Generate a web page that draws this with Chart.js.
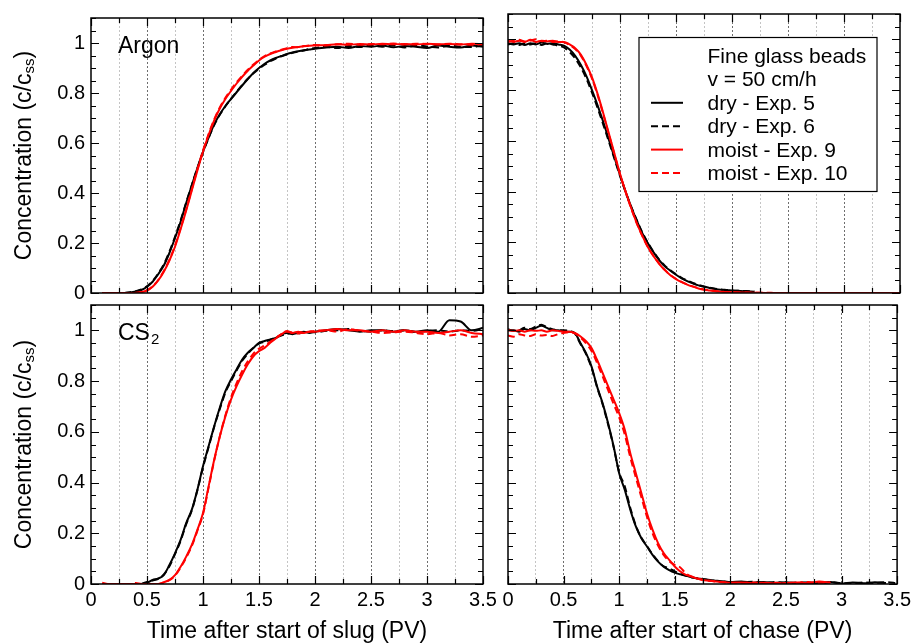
<!DOCTYPE html>
<html><head><meta charset="utf-8">
<script src="https://cdn.jsdelivr.net/npm/chart.js@4/dist/chart.umd.min.js"></script>
<style>
html,body{margin:0;padding:0;background:#fff;}
#wrap{position:relative;width:915px;height:643px;background:#fff;}
#wrap canvas{position:absolute;left:0;top:0;}
</style></head><body>
<div id="wrap">
<canvas id="cTL" width="915" height="643"></canvas>
<canvas id="cTR" width="915" height="643"></canvas>
<canvas id="cBL" width="915" height="643"></canvas>
<canvas id="cBR" width="915" height="643"></canvas>
</div>
<script>
// ---------------- data ----------------
const pv = [0,0.05,0.1,0.15,0.2,0.25,0.3,0.35,0.4,0.45,
  0.5,0.55,0.6,0.65,0.7,0.75,0.8,0.85,0.9,0.95,
  1.0,1.05,1.1,1.15,1.2,1.25,1.3,1.35,1.4,1.45,
  1.5,1.55,1.6,1.65,1.7,1.75,1.8,1.85,1.9,1.95,
  2.0,2.1,2.2,2.3,2.4,2.5,2.6,2.7,2.8,2.9,
  3.0,3.1,3.2,3.3,3.4,3.5];

const seriesLabels = ['dry - Exp. 5','dry - Exp. 6','moist - Exp. 9','moist - Exp. 10'];
const legendHeader = ['Fine glass beads','v = 50 cm/h'];
const xTickLabels = ['0','0.5','1','1.5','2','2.5','3','3.5'];
const yTickLabels = ['0','0.2','0.4','0.6','0.8','1'];
const xTitles = ['Time after start of slug (PV)','Time after start of chase (PV)'];
const yTitleParts = ['Concentration (c/c','ss',')'];
const gasLabels = [['Argon',''],['CS','2']];

// Argon, slug
const argonSlugDry5 = [null,null,0,0,0,0,0,0.002,0.006,0.012,
  0.025,0.045,0.075,0.11,0.16,0.22,0.285,0.36,0.43,0.5,
  0.565,0.622,0.675,0.715,0.748,0.776,0.803,0.83,0.856,0.88,
  0.9,0.917,0.93,0.94,0.948,0.956,0.962,0.967,0.971,0.974,
  0.977,0.982,0.985,0.98,0.988,0.985,0.99,0.983,0.988,0.985,
  0.98,0.99,0.985,0.982,0.99,0.985];
const argonSlugDry6 = [null,null,0,0,0,0,0,0.003,0.007,0.014,
  0.027,0.048,0.078,0.115,0.165,0.225,0.29,0.362,0.432,0.5,
  0.563,0.62,0.672,0.713,0.747,0.777,0.805,0.832,0.857,0.879,
  0.897,0.913,0.927,0.938,0.947,0.954,0.961,0.966,0.97,0.976,
  0.98,0.984,0.98,0.988,0.984,0.99,0.985,0.99,0.982,0.99,
  0.986,0.982,0.99,0.985,0.984,0.99];
const argonSlugMoist9 = [null,null,0,0,0,0,0,0,0,0.003,
  0.01,0.025,0.05,0.085,0.13,0.185,0.255,0.33,0.41,0.49,
  0.565,0.632,0.69,0.738,0.776,0.808,0.838,0.865,0.889,0.91,
  0.93,0.945,0.956,0.964,0.971,0.977,0.981,0.984,0.987,0.989,
  0.99,0.992,0.995,0.993,0.996,0.994,0.997,0.995,0.996,0.994,
  0.997,0.995,0.996,0.994,0.997,0.995];
const argonSlugMoist10 = [null,null,0,0,0,0,0,0,0.001,0.004,
  0.011,0.027,0.052,0.088,0.133,0.19,0.26,0.335,0.415,0.495,
  0.57,0.636,0.694,0.742,0.781,0.813,0.843,0.869,0.893,0.914,
  0.933,0.948,0.958,0.966,0.973,0.979,0.984,0.983,0.988,0.99,
  0.992,0.99,0.995,0.997,0.993,0.996,0.995,0.998,0.994,0.997,
  0.996,0.994,0.997,0.995,0.993,0.996];

// Argon, chase
const argonChaseDry5 = [0.985,0.98,0.985,0.978,0.985,0.98,0.988,0.982,0.985,0.98,
  0.975,0.96,0.935,0.9,0.855,0.8,0.74,0.675,0.605,0.535,
  0.465,0.4,0.34,0.285,0.235,0.195,0.16,0.13,0.105,0.088,
  0.072,0.058,0.047,0.038,0.03,0.025,0.02,0.016,0.013,0.011,
  0.01,0.007,0.005,null,null,null,null,null,null,null,
  null,null,null,null,null,null];
const argonChaseDry6 = [0.98,0.985,0.978,0.985,0.98,0.985,0.978,0.985,0.98,0.975,
  0.968,0.95,0.925,0.89,0.845,0.79,0.73,0.665,0.598,0.53,
  0.462,0.398,0.34,0.287,0.238,0.197,0.162,0.132,0.108,0.09,
  0.074,0.06,0.049,0.04,0.032,0.026,0.021,0.017,0.014,0.012,
  0.01,0.008,0.006,null,null,null,null,null,null,null,
  null,null,null,null,null,null];
const argonChaseMoist9 = [0.995,0.99,0.995,0.99,0.998,0.99,0.995,0.992,0.995,0.99,
  0.99,0.98,0.965,0.94,0.9,0.85,0.785,0.71,0.63,0.55,
  0.47,0.4,0.335,0.275,0.225,0.18,0.145,0.115,0.09,0.07,
  0.055,0.043,0.033,0.025,0.018,0.013,0.01,0.007,0.005,0.004,
  0.003,0.002,0.001,0,0,0,0,0,0,0,
  0,0,0,0,0,0];
const argonChaseMoist10 = [0.99,0.995,0.998,0.992,0.995,1.0,0.993,0.995,0.99,0.992,
  0.988,0.978,0.962,0.936,0.896,0.845,0.78,0.705,0.626,0.547,
  0.468,0.398,0.333,0.274,0.224,0.18,0.146,0.116,0.091,0.071,
  0.056,0.044,0.034,0.026,0.019,0.014,0.011,0.008,0.006,0.004,
  0.003,0.002,0.001,0.001,0,0,0,0,0,0,
  0,0,0,0,0,0];

// CS2, slug
const cs2SlugDry5 = [null,null,null,null,null,null,null,null,null,0,
  0.005,0.016,0.022,0.035,0.075,0.121,0.174,0.24,0.293,0.372,
  0.464,0.543,0.622,0.695,0.76,0.806,0.846,0.885,0.912,0.931,
  0.951,0.958,0.964,0.97,0.984,0.99,0.985,0.99,0.995,0.99,
  0.995,1.0,1.005,1.0,0.995,1.0,1.0,0.995,1.0,0.995,
  1.0,0.995,1.04,1.035,1.0,1.01];
const cs2SlugDry6 = [null,null,null,null,null,null,null,null,null,0,
  0.008,0.014,0.02,0.038,0.07,0.118,0.17,0.236,0.29,0.37,
  0.46,0.54,0.62,0.69,0.755,0.8,0.842,0.88,0.908,0.93,
  0.948,0.955,0.962,0.972,0.98,0.986,0.99,0.988,0.992,0.995,
  0.993,0.998,1.0,1.005,0.998,0.995,1.0,0.997,1.0,0.993,
  0.998,1.0,0.995,1.0,0.998,1.005];
const cs2SlugMoist9 = [null,null,0,0,0,0,0,0,0,0,
  0,0,0,0.007,0.016,0.035,0.068,0.108,0.154,0.214,
  0.28,0.385,0.49,0.582,0.661,0.727,0.78,0.826,0.866,0.898,
  0.918,0.931,0.951,0.968,0.984,0.997,0.99,0.995,0.99,0.995,
  0.995,1.0,1.005,1.0,1.0,0.995,1.0,0.995,1.0,0.995,
  0.995,0.99,0.995,1.0,0.99,0.985];
const cs2SlugMoist10 = [null,null,0.005,0,0,0,0,0,0.004,0,
  0,0,0,0.006,0.015,0.033,0.065,0.104,0.15,0.21,
  0.275,0.38,0.487,0.582,0.665,0.735,0.792,0.84,0.878,0.908,
  0.928,0.94,0.955,0.97,0.985,0.995,0.99,0.988,0.992,0.995,
  0.998,1.0,0.995,1.005,0.998,0.995,0.99,0.992,0.995,0.99,
  0.985,0.99,0.98,0.985,0.975,0.98];

// CS2, chase
const cs2ChaseDry5 = [1.0,1.0,0.995,1.005,1.0,1.01,1.018,1.01,1.0,1.0,
  0.997,0.995,0.99,0.951,0.912,0.859,0.78,0.714,0.635,0.543,
  0.437,0.372,0.293,0.227,0.18,0.148,0.115,0.088,0.068,0.055,
  0.045,0.038,0.032,0.027,0.022,0.02,0.017,0.014,0.012,0.01,
  0.008,0.01,0.005,0.008,0.004,0.007,0.003,0.006,0.004,0.008,
  0.002,0.006,0.003,0.007,0.004,null];
const cs2ChaseDry6 = [1.005,0.998,1.0,1.01,1.005,1.015,1.022,1.012,1.005,1.0,
  1.0,0.998,0.988,0.948,0.908,0.855,0.778,0.71,0.63,0.54,
  0.44,0.385,0.3,0.23,0.182,0.15,0.117,0.09,0.07,0.062,
  0.05,0.04,0.033,0.027,0.023,0.02,0.016,0.013,0.011,0.009,
  0.007,0.006,0.009,0.004,0.008,0.003,0.006,0.005,0.003,0.007,
  0.004,0.002,0.006,0.004,0.007,0.003];
const cs2ChaseMoist9 = [1.0,0.998,1.0,0.995,1.0,0.998,1.0,0.995,1.0,0.998,
  0.995,0.995,0.99,0.977,0.958,0.931,0.885,0.833,0.78,0.727,
  0.674,0.609,0.516,0.437,0.358,0.279,0.214,0.161,0.122,0.095,
  0.069,0.049,0.036,0.029,0.022,0.016,0.013,0.011,0.009,0.007,
  0.005,0.006,0.003,0.005,0.002,0.004,0.006,0.003,0.01,0.005,
  null,null,null,null,null,null];
const cs2ChaseMoist10 = [0.98,0.975,0.985,0.98,0.978,0.985,0.98,0.982,0.978,0.985,
  0.99,0.993,0.988,0.972,0.95,0.92,0.873,0.82,0.765,0.71,
  0.657,0.59,0.5,0.42,0.342,0.265,0.2,0.152,0.115,0.09,
  0.075,0.065,0.042,0.03,0.023,0.017,0.014,0.011,0.008,0.006,
  0.005,0.004,0.006,0.003,0.005,0.002,0.004,0.008,0.003,0.006,
  null,null,null,null,null,null];

// ---------------- styling ----------------
const FONT = "'Liberation Sans', Arial, Helvetica, sans-serif";
Chart.defaults.font.family = FONT;
Chart.defaults.color = '#000';
const seriesColors = ['#000000','#000000','#ff0000','#ff0000'];
const seriesDash = [[],[7,4],[],[7,4]];

function makeDatasets(arrs) {
  return arrs.map((arr, i) => ({
    label: seriesLabels[i],
    data: arr.map((v, k) => ({x: pv[k], y: v})),
    borderColor: seriesColors[i],
    backgroundColor: seriesColors[i],
    borderDash: seriesDash[i],
    borderWidth: 2,
    pointRadius: 0,
    fill: false,
    cubicInterpolationMode: 'monotone',
    spanGaps: false,
    order: i < 2 ? 2 + i : i - 2
  }));
}

const decorPlugin = {
  id: 'decor',
  afterDraw(chart, args, opts) {
    const {ctx, chartArea: a, scales: {x, y}} = chart;
    ctx.save();
    // inward ticks
    ctx.strokeStyle = '#000';
    ctx.lineWidth = 1.2;
    ctx.beginPath();
    for (let i = 0; i <= 22; i++) {
      const py = Math.round(y.getPixelForValue(i * 0.05)) + 0.5;
      const len = (i % 4 === 0) ? 8 : 5;
      ctx.moveTo(a.left, py); ctx.lineTo(a.left + len, py);
      ctx.moveTo(a.right, py); ctx.lineTo(a.right - len, py);
    }
    for (let i = 0; i <= 14; i++) {
      const px = Math.round(x.getPixelForValue(i * 0.25)) + 0.5;
      const len = (i % 2 === 0) ? 8 : 5;
      ctx.moveTo(px, a.bottom); ctx.lineTo(px, a.bottom - len);
      ctx.moveTo(px, a.top); ctx.lineTo(px, a.top + len);
    }
    ctx.stroke();
    // frame
    ctx.lineWidth = 1.5;
    ctx.strokeRect(a.left, a.top, a.right - a.left, a.bottom - a.top);

    // panel label
    if (opts.gas) {
      ctx.fillStyle = '#000';
      ctx.textAlign = 'left';
      ctx.textBaseline = 'alphabetic';
      ctx.font = '23px ' + FONT;
      const gx = a.left + 27, gy = a.top + 34.5;
      ctx.fillText(opts.gas[0], gx, gy);
      if (opts.gas[1]) {
        const w = ctx.measureText(opts.gas[0]).width;
        ctx.font = '15px ' + FONT;
        ctx.fillText(opts.gas[1], gx + w + 1, gy + 4);
      }
    }

    // y title with subscript
    if (opts.yTitle) {
      const bigF = '23px ' + FONT, smallF = '15px ' + FONT;
      ctx.font = bigF; const w0 = ctx.measureText(yTitleParts[0]).width;
      const w2 = ctx.measureText(yTitleParts[2]).width;
      ctx.font = smallF; const w1 = ctx.measureText(yTitleParts[1]).width;
      const total = w0 + w1 + w2;
      ctx.translate(31, (a.top + a.bottom) / 2);
      ctx.rotate(-Math.PI / 2);
      ctx.fillStyle = '#000';
      ctx.textAlign = 'left';
      ctx.textBaseline = 'alphabetic';
      let cx = -total / 2;
      ctx.font = bigF; ctx.fillText(yTitleParts[0], cx, 0); cx += w0;
      ctx.font = smallF; ctx.fillText(yTitleParts[1], cx, 3); cx += w1;
      ctx.font = bigF; ctx.fillText(yTitleParts[2], cx, 0);
      ctx.setTransform(1, 0, 0, 1, 0, 0);
    }

    // legend box
    if (opts.legend) {
      const bx = a.left + 131, by = a.top + 23.5, bw = 238, bh = 154;
      ctx.fillStyle = '#fff';
      ctx.fillRect(bx, by, bw, bh);
      ctx.strokeStyle = '#000';
      ctx.lineWidth = 1.2;
      ctx.strokeRect(bx, by, bw, bh);
      ctx.font = '21px ' + FONT;
      ctx.fillStyle = '#000';
      ctx.textAlign = 'left';
      ctx.textBaseline = 'alphabetic';
      const tx = a.left + 199.5;
      const lineH = 23.4;
      let base = a.top + 49;
      legendHeader.forEach(t => { ctx.fillText(t, tx, base); base += lineH; });
      chart.data.datasets.forEach(ds => {
        ctx.save();
        ctx.strokeStyle = ds.borderColor;
        ctx.lineWidth = 2;
        ctx.setLineDash(ds.borderDash || []);
        ctx.beginPath();
        ctx.moveTo(a.left + 143, base - 7);
        ctx.lineTo(a.left + 175, base - 7);
        ctx.stroke();
        ctx.restore();
        ctx.fillStyle = '#000';
        ctx.fillText(ds.label, tx, base);
        base += lineH;
      });
    }
    ctx.restore();
  }
};

function xTickValues() {
  const out = [];
  for (let i = 0; i <= 14; i++) out.push({value: i * 0.25});
  return out;
}

function makeChart(id, series, cfg) {
  return new Chart(document.getElementById(id), {
    type: 'line',
    data: { datasets: makeDatasets(series) },
    options: {
      responsive: false,
      animation: false,
      devicePixelRatio: 1,
      events: [],
      layout: { padding: cfg.pad },
      plugins: {
        legend: { display: false },
        tooltip: { enabled: false },
        decor: { gas: cfg.gas, yTitle: cfg.yTitle, legend: cfg.legend }
      },
      scales: {
        x: {
          type: 'linear', min: 0, max: 3.5,
          afterBuildTicks: s => { s.ticks = xTickValues(); },
          afterFit: s => { s.height = cfg.xTitle ? 59 : 0; },
          ticks: {
            display: !!cfg.xTitle,
            autoSkip: false, maxRotation: 0, minRotation: 0,
            padding: 4,
            font: { size: 20, lineHeight: 1.2 },
            color: '#000',
            callback: (v) => {
              const s = xTickLabels.find(l => Math.abs(parseFloat(l) - v) < 1e-9);
              return s === undefined ? '' : s;
            }
          },
          grid: {
            drawTicks: false,
            lineWidth: 1,
            color: (c) => {
              const v = c.tick ? c.tick.value : 0;
              if (v <= 0.001 || v >= 3.499) return 'rgba(0,0,0,0)';
              return (Math.round(v * 4) % 2 === 0) ? '#6e6e6e' : '#c4c4c4';
            }
          },
          border: { display: false, dash: [2, 2] },
          title: {
            display: !!cfg.xTitle,
            text: cfg.xTitle || '',
            font: { size: 23, lineHeight: 1 },
            padding: { top: 0, bottom: 0 },
            color: '#000'
          }
        },
        y: {
          type: 'linear', min: 0, max: 1.1,
          afterBuildTicks: s => { s.ticks = yTickLabels.map(l => ({value: parseFloat(l)})); },
          afterFit: s => { s.width = cfg.yWidth; },
          ticks: {
            display: !!cfg.yTitle,
            padding: 6,
            font: { size: 20, lineHeight: 1.2 },
            color: '#000',
            callback: (v, i) => yTickLabels[i]
          },
          grid: { display: false, drawTicks: false },
          border: { display: false }
        }
      }
    },
    plugins: [decorPlugin]
  });
}

makeChart('cTL', [argonSlugDry5, argonSlugDry6, argonSlugMoist9, argonSlugMoist10],
  { pad: {left: 0, right: 432, top: 14, bottom: 350}, yWidth: 91, gas: gasLabels[0], yTitle: true, legend: false, xTitle: null });
makeChart('cTR', [argonChaseDry5, argonChaseDry6, argonChaseMoist9, argonChaseMoist10],
  { pad: {left: 508, right: 15, top: 14, bottom: 350}, yWidth: 0, gas: null, yTitle: false, legend: true, xTitle: null });
makeChart('cBL', [cs2SlugDry5, cs2SlugDry6, cs2SlugMoist9, cs2SlugMoist10],
  { pad: {left: 0, right: 432, top: 305, bottom: 0}, yWidth: 91, gas: gasLabels[1], yTitle: true, legend: false, xTitle: xTitles[0] });
makeChart('cBR', [cs2ChaseDry5, cs2ChaseDry6, cs2ChaseMoist9, cs2ChaseMoist10],
  { pad: {left: 508, right: 15, top: 305, bottom: 0}, yWidth: 0, gas: null, yTitle: false, legend: false, xTitle: xTitles[1] });
</script>
</body></html>
